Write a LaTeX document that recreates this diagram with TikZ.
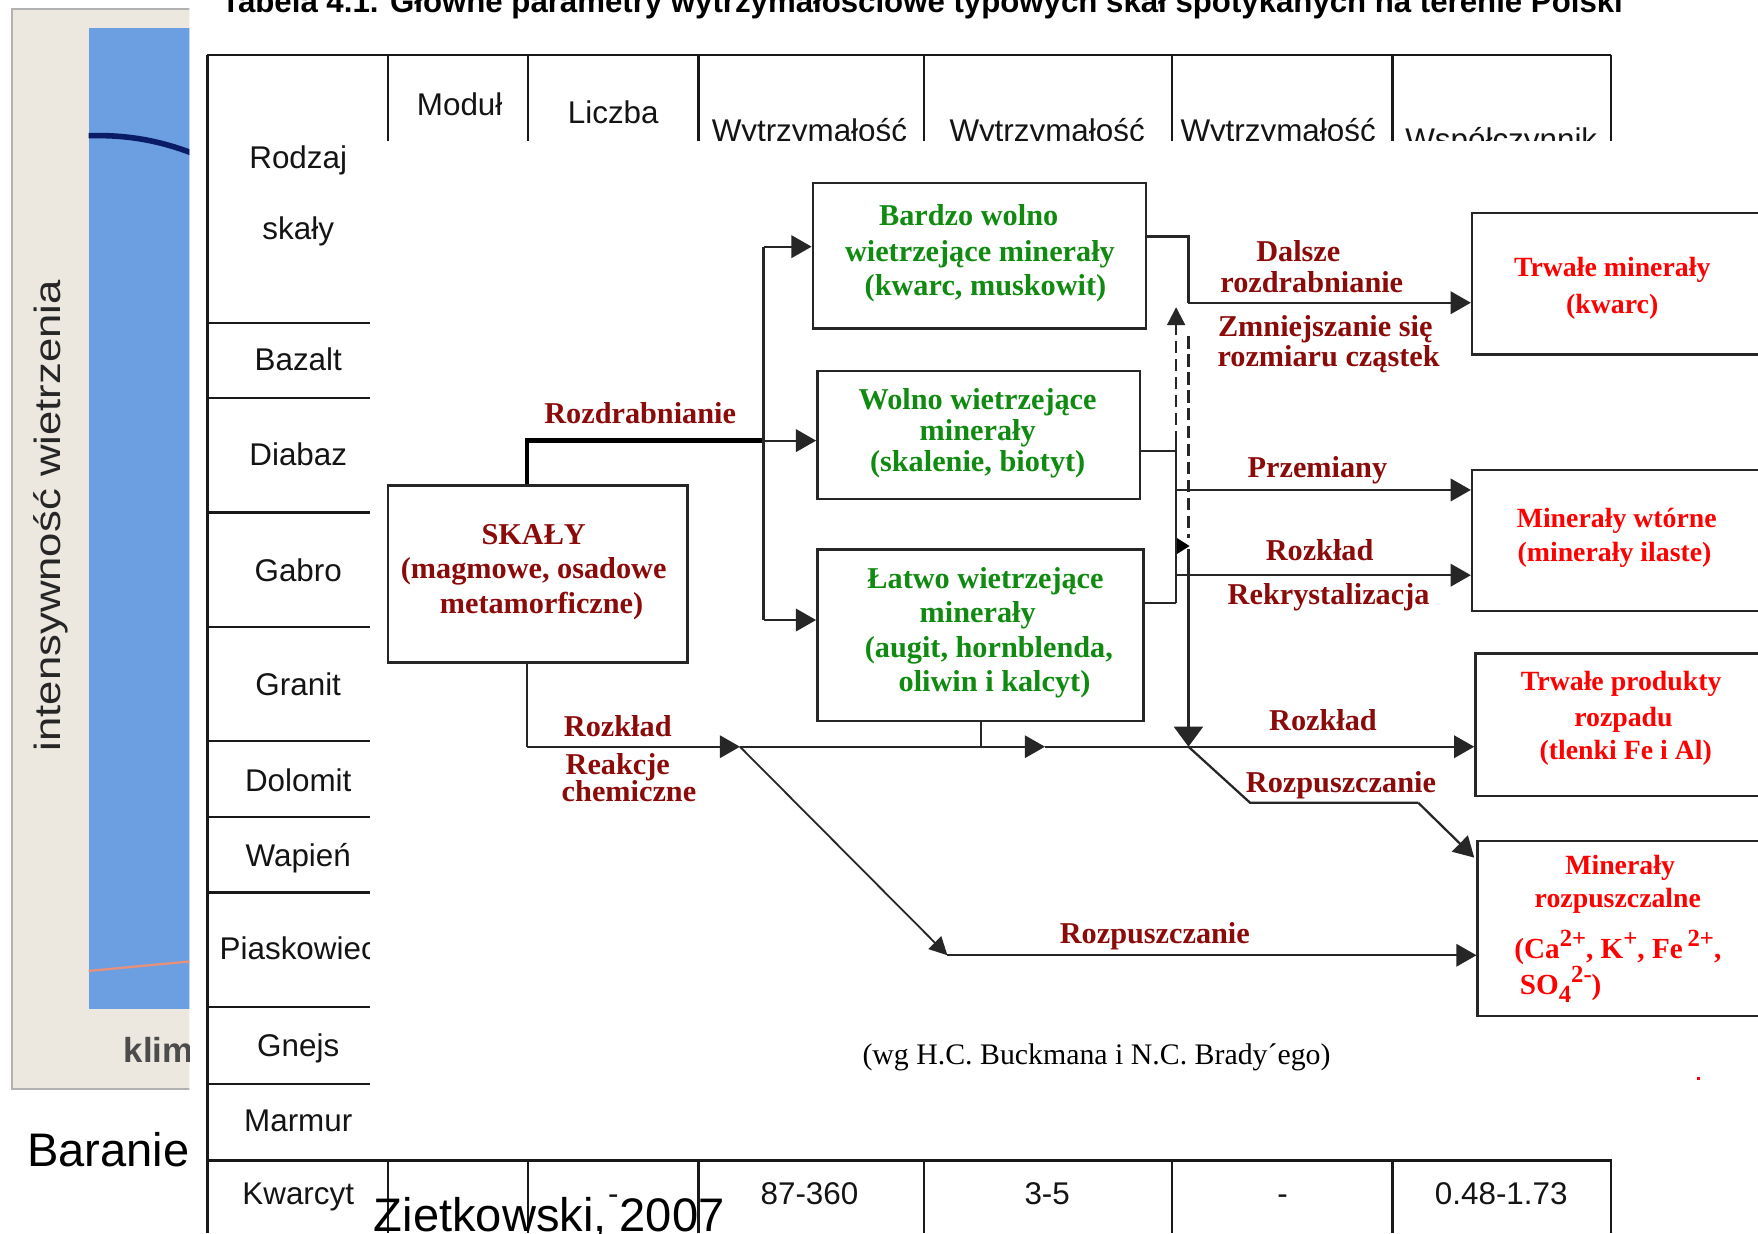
\documentclass[tikz,border=0pt]{standalone}
\usepackage{fontspec}
\setmainfont{Liberation Serif}
\setsansfont{Liberation Sans}
\usepackage{graphicx}
\usetikzlibrary{arrows.meta,calc}
\definecolor{dred}{HTML}{8B0A0A}
\definecolor{dgreen}{HTML}{108A10}
\definecolor{bred}{HTML}{FF0000}
\definecolor{beige}{HTML}{ECE8E0}
\definecolor{skyb}{HTML}{6C9FE2}
\definecolor{navy}{HTML}{0B1C66}
\definecolor{salmon}{HTML}{E8907A}
\newcommand\myup[1]{\raisebox{0.42em}{\fontsize{11pt}{11pt}\selectfont #1}}
\newcommand\mydown[1]{\raisebox{-0.28em}{\fontsize{11pt}{11pt}\selectfont #1}}
\tikzset{
  tab/.style={font=\sffamily\fontsize{14pt}{16pt}\selectfont, text=black!92, inner sep=0pt, text height=0.72em, text depth=0pt},
  lab/.style={font=\bfseries\fontsize{13.5pt}{15pt}\selectfont, text=dred, inner sep=0pt, text height=0.68em, text depth=0pt},
  grn/.style={lab, text=dgreen},
  rd/.style={font=\bfseries\fontsize{12.4pt}{14pt}\selectfont, text=bred, inner sep=0pt, text height=0.68em, text depth=0pt},
  box/.style={draw=black!85, line width=1.1pt, inner sep=0pt},
  ln/.style={draw=black!85, line width=1pt},
  arr/.style={ln, -{Triangle[length=9pt,width=10pt]}},
  bigarr/.style={ln, -{Triangle[length=9pt,width=13pt]}},
  tline/.style={draw=black!90, line width=1pt},
}
\begin{document}
\begin{tikzpicture}[x=0.5pt,y=-0.5pt]
\useasboundingbox (0,0) rectangle (1568,1100);
\clip (0,0) rectangle (1568,1100);
\fill[white] (0,0) rectangle (1568,1100);

% ---------- left scanned panel ----------
\begin{scope}
\clip (0,0) rectangle (169,1100);
\fill[beige] (11,8) rectangle (175,971);
\draw[gray!60, line width=1pt] (175,8) -- (11,8) -- (11,971) -- (175,971);
\fill[skyb] (79,25) rectangle (175,900);
\draw[navy, line width=2.5pt] (79,121) .. controls (115,120) and (145,126) .. (175,138);
\draw[salmon, line width=1pt] (79,866) -- (175,857);
\node[anchor=base west, inner sep=0pt, text=black!70, font=\sffamily\bfseries\fontsize{15.5pt}{17pt}\selectfont] (klim) at (110,948) {klim};
\node[rotate=90, inner sep=0pt, text=black!85, font=\sffamily] (ylab) at (45,460) {\resizebox{210pt}{12pt}{intensywność wietrzenia}};
\node[anchor=base west, inner sep=0pt, font=\sffamily\fontsize{21pt}{24pt}\selectfont] (baranie) at (24,1040) {Baranie};
\end{scope}

% ---------- title ----------
\node[anchor=base west, inner sep=0pt] (title) at (197,11) {\resizebox{625pt}{!}{\sffamily\bfseries\fontsize{12.5pt}{14pt}\selectfont Tabela 4.1. Główne parametry wytrzymałościowe typowych skał spotykanych na terenie Polski}};

% ---------- table ----------
\draw[tline] (185,49) -- (1437,49);
\foreach \xx in {185,346,471,623,824,1045,1242,1437} {\draw[tline] (\xx,49) -- (\xx,1100);}
\foreach \yy in {288,355,457,559,661,729,796,898,967} {\draw[tline] (185,\yy) -- (1437,\yy);}
\node[tab] (hrodz) at (266,143) {Rodzaj};
\node[tab] (hskal) at (266,206) {skały};
\node[tab] (hmod) at (410,96) {Moduł};
\node[tab] (hlicz) at (547,103) {Liczba};
\node[tab] (hwa) at (722,119) {Wytrzymałość};
\node[tab] (hwb) at (934,119) {Wytrzymałość};
\node[tab] (hwc) at (1140,119) {Wytrzymałość};
\node[tab] (hwsp) at (1339,127) {Współczynnik};
\node[tab] (r1) at (266,323) {Bazalt};
\node[tab] (r2) at (266,408) {Diabaz};
\node[tab] (r3) at (266,511) {Gabro};
\node[tab] (r4) at (266,613) {Granit};
\node[tab] (r5) at (266,699) {Dolomit};
\node[tab] (r6) at (266,766) {Wapień};
\node[tab] (r7) at (266,849) {Piaskowiec};
\node[tab] (r8) at (266,935) {Gnejs};
\node[tab] (r9) at (266,1002) {Marmur};

% overlay of the diagram picture
\fill[white] (330,126) rectangle (1570,1033.5);
\draw[tline] (185,1035) -- (1437,1035);
\node[tab] (r10) at (266,1067) {Kwarcyt};
\node[tab] (kc3) at (547,1067) {-};
\node[tab] (kc4) at (722,1067) {87-360};
\node[tab] (kc5) at (934,1067) {3-5};
\node[tab] (kc6) at (1144,1067) {-};
\node[tab] (kc7) at (1339,1067) {0.48-1.73};

% ---------- diagram boxes ----------
\node[box, minimum width=133.5pt, minimum height=79pt] (skaly) at (479.5,512) {};
\node[box, minimum width=148.5pt, minimum height=65pt] (bardzo) at (873.5,228) {};
\node[box, minimum width=144pt, minimum height=57pt] (wolno) at (873,388) {};
\node[box, minimum width=145.5pt, minimum height=76.5pt] (latwo) at (874.5,566.5) {};
\node[box, minimum width=143.5pt, minimum height=63pt] (trwale) at (1456.5,253) {};
\node[box, minimum width=143.5pt, minimum height=63pt] (wtorne) at (1456.5,482) {};
\node[box, minimum width=142pt, minimum height=63.5pt] (produkty) at (1458,646.5) {};
\node[box, minimum width=141pt, minimum height=78pt] (rozp) at (1459,828) {};

% box texts
\node[lab] (s1) at (476,479) {SKAŁY};
\node[lab] (s2) at (476,509) {(magmowe, osadowe};
\node[lab] (s3) at (483,540) {metamorficzne)};
\node[grn] (b1) at (864,194) {Bardzo wolno};
\node[grn] (b2) at (874,226) {wietrzejące minerały};
\node[grn] (b3) at (879,257) {(kwarc, muskowit)};
\node[grn] (w1) at (872,358) {Wolno wietrzejące};
\node[grn] (w2) at (872,386) {minerały};
\node[grn] (w3) at (872,414) {(skalenie, biotyt)};
\node[grn] (l1) at (879,518) {Łatwo wietrzejące};
\node[grn] (l2) at (872,548) {minerały};
\node[grn] (l3) at (882,580) {(augit, hornblenda,};
\node[grn] (l4) at (887,610) {oliwin i kalcyt)};
\node[rd] (t1) at (1438,240) {Trwałe minerały};
\node[rd] (t2) at (1438,273) {(kwarc)};
\node[rd] (m1t) at (1442,464) {Minerały wtórne};
\node[rd] (m2t) at (1440,494) {(minerały ilaste)};
\node[rd] (p1t) at (1446,609) {Trwałe produkty};
\node[rd] (p2t) at (1448,641) {rozpadu};
\node[rd] (p3t) at (1450,671) {(tlenki Fe i Al)};
\node[rd] (q1t) at (1445,773) {Minerały};
\node[rd] (q2t) at (1443,803) {rozpuszczalne};
\node[rd, font=\bfseries\fontsize{13pt}{14pt}\selectfont] (q3t) at (1443,848) {(Ca\myup{2+}, K\myup{+}, Fe\,\myup{2+},};
\node[rd, font=\bfseries\fontsize{13pt}{14pt}\selectfont] (q4t) at (1392,880) {SO\mydown{4}\myup{2-})};

% ---------- connectors ----------
\coordinate (j1) at (470,393);
\coordinate (j2) at (681,393);
\coordinate (j3) at (681,220);
\coordinate (j4) at (681,553);
\draw[draw=black, line width=2pt] (skaly.north -| j1) -- (j1) -- (j2);
\draw[arr] (j2) -- (wolno.west |- j2);
\draw[ln] (j3) -- (j4);
\draw[arr] (j3) -- (bardzo.west |- j3);
\draw[arr] (j4) -- (latwo.west |- j4);

\coordinate (k1) at (470,666);
\coordinate (k2) at (875,666);
\coordinate (ma) at (660,666);
\coordinate (mb) at (932,666);
\draw[ln] (skaly.south -| k1) -- (k1);
\draw[arr] (k1) -- (ma);
\draw[arr] (ma) -- (mb);
\draw[arr] (mb) -- (produkty.west |- mb);
\draw[ln] (latwo.south -| k2) -- (k2);

\coordinate (d1) at (845,852);
\draw[ln, line width=0.8pt, -{Triangle[length=8pt,width=8pt]}] (ma) -- (d1);
\draw[arr] (d1) -- (rozp.west |- d1);

\coordinate (ra) at (1060,211);
\coordinate (rb) at (1060,270);
\draw[ln] (bardzo.east |- ra) -- (ra) -- (rb);
\draw[arr] (rb) -- (trwale.west |- rb);

\coordinate (ja) at (1049,274);
\coordinate (jb) at (1049,395);
\coordinate (jc) at (1049,538);
\coordinate (jw) at (1049,402);
\coordinate (jp) at (1049,437);
\coordinate (jr) at (1049,513);
\draw[ln, dash pattern=on 5.5pt off 2.5pt, -{Triangle[length=8pt,width=8pt]}] (jb) -- (ja);
\draw[ln] (wolno.east |- jw) -- (jw);
\draw[ln] (latwo.east |- jc) -- (jc);
\draw[ln] (jb) -- (jc);
\draw[arr] (jp) -- (wtorne.west |- jp);
\draw[arr] (jr) -- (wtorne.west |- jr);

\coordinate (jd1) at (1060,300);
\coordinate (jd2) at (1060,480);
\coordinate (jv1) at (1060,490);
\coordinate (jv2) at (1060,666);
\draw[ln, dash pattern=on 5.5pt off 2.5pt] (jd1) -- (jd2);
\fill[black] (1050,480) -- (1061,487) -- (1050,494) -- cycle;
\draw[bigarr] (jv1) -- (jv2);

\coordinate (pa) at (1115,716);
\coordinate (pb) at (1265,716);
\coordinate (pc) at ($(rozp.north west)+(-2,16)$);
\draw[ln] (jv2) -- (pa) -- (pb);
\draw[arr] (pb) -- (pc);

% ---------- connector labels ----------
\node[lab] (la1) at (571,371) {Rozdrabnianie};
\node[lab] (la2) at (551,650) {Rozkład};
\node[lab] (la3) at (551,684) {Reakcje};
\node[lab] (la4) at (561,708) {chemiczne};
\node[lab] (la5) at (1030,835) {Rozpuszczanie};
\node[lab] (la6) at (1158,226) {Dalsze};
\node[lab] (la7) at (1170,254) {rozdrabnianie};
\node[lab] (la8) at (1182,293) {Zmniejszanie się};
\node[lab] (la9) at (1185,320) {rozmiaru cząstek};
\node[lab] (la10) at (1175,419) {Przemiany};
\node[lab] (la11) at (1177,493) {Rozkład};
\node[lab] (la12) at (1185,532) {Rekrystalizacja};
\node[lab] (la13) at (1180,645) {Rozkład};
\node[lab] (la14) at (1196,700) {Rozpuszczanie};

\node[inner sep=0pt, text height=0.68em, text depth=0pt, font=\fontsize{13.3pt}{15pt}\selectfont] (cap) at (978,943) {(wg H.C. Buckmana i N.C. Brady´ego)};
\fill[bred] (1514,961) rectangle (1516,963);

% ---------- bottom overlay text ----------
\node[anchor=base west, inner sep=0pt, font=\sffamily\fontsize{21pt}{24pt}\selectfont] (ziet) at (333,1098) {Zietkowski, 2007};
\end{tikzpicture}
\end{document}
